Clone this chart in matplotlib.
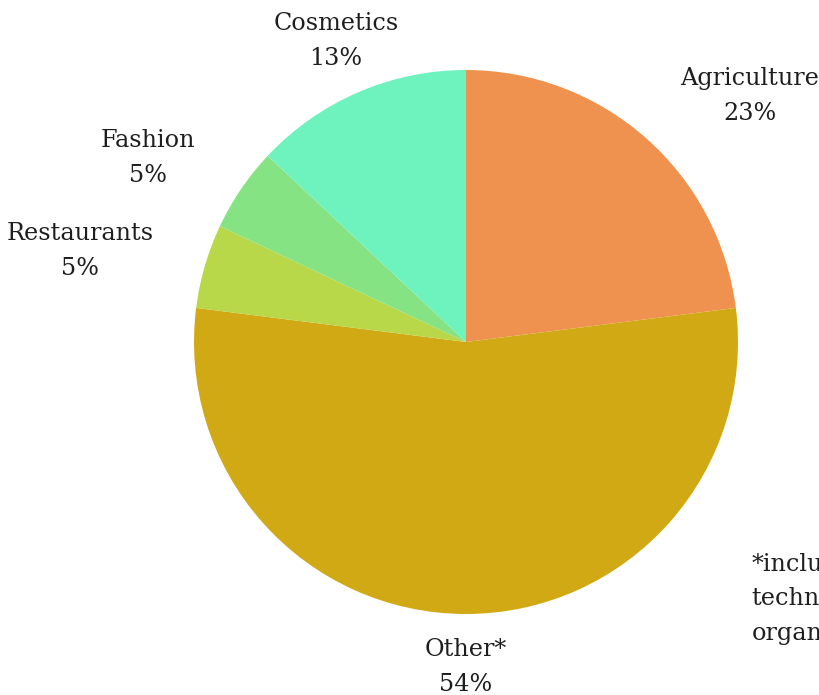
import numpy as np
import matplotlib
matplotlib.use("Agg")
from matplotlib import pyplot as plt

labels = ["Agriculture", "Other*", "Restaurants", "Fashion", "Cosmetics"]
shares = [23, 54, 5, 5, 13]
colors = ["#F0924F", "#D1A914", "#B8D84A", "#86E384", "#6EF3BE"]
# label centres, in units of the pie radius (layout only)
label_xy = [(1.044, 0.905), (0.0, -1.194), (-1.419, 0.335), (-1.169, 0.677), (-0.478, 1.107)]
note = "*includes\ntechnology,\norganizations"

fig = plt.figure(figsize=(8.2, 6.95), dpi=100)
ax = fig.add_axes([0, 0, 1, 1])
ax.pie(shares, colors=colors, startangle=90, counterclock=False, radius=1.0,
       wedgeprops=dict(linewidth=0))
ax.set_xlim(-466/272, 354/272)
ax.set_ylim(-353/272, 342/272)
ax.set_aspect("equal")
ax.axis("off")

tot = float(sum(shares))
for lab, v, (x, y) in zip(labels, shares, label_xy):
    ax.text(x, y, "%s\n%d%%" % (lab, round(100*v/tot)), ha="center", va="center",
            fontsize=17.2, family="DejaVu Serif", color="#1e1e1e", linespacing=1.64)
ax.text(1.051, -0.775, note, ha="left", va="top", fontsize=17.2, family="DejaVu Serif",
        color="#1e1e1e", linespacing=1.64)

fig.savefig("out.png", dpi=100)
